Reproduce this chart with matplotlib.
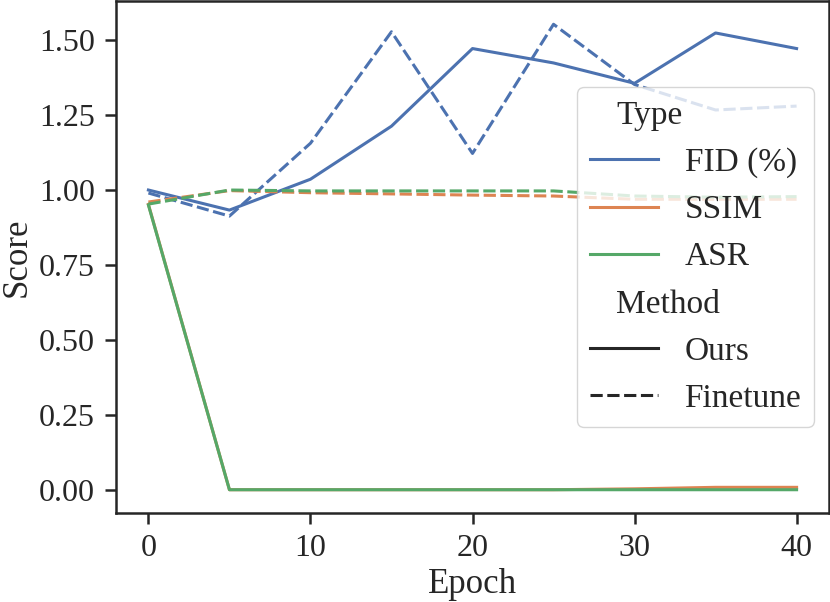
import matplotlib
matplotlib.use("Agg")
import matplotlib.pyplot as plt
from matplotlib.lines import Line2D
from matplotlib.patches import Patch

plt.rcParams["font.family"] = ["Liberation Serif", "DejaVu Serif"]

epochs = [0, 5, 10, 15, 20, 25, 30, 35, 40]

fid_ours = [1.00, 0.933, 1.036, 1.213, 1.472, 1.424, 1.356, 1.524, 1.472]
fid_finetune = [0.99, 0.913, 1.156, 1.528, 1.122, 1.553, 1.352, 1.267, 1.280]
ssim_ours = [0.952, 0.0, 0.0, 0.0, 0.0, 0.0, 0.003, 0.008, 0.008]
ssim_finetune = [0.960, 0.998, 0.991, 0.987, 0.983, 0.980, 0.969, 0.969, 0.969]
asr_ours = [0.950, 0.0, 0.0, 0.0, 0.0, 0.0, 0.0, 0.0, 0.0]
asr_finetune = [0.953, 1.000, 0.997, 0.997, 0.997, 0.997, 0.980, 0.976, 0.978]

types = ["FID (%)", "SSIM", "ASR"]
methods = ["Ours", "Finetune"]
colors = {"FID (%)": "#4C72B0", "SSIM": "#DD8452", "ASR": "#55A868"}
dashes = {"Ours": (None, None), "Finetune": (4, 1.5)}
series = {
    ("FID (%)", "Ours"): fid_ours,
    ("FID (%)", "Finetune"): fid_finetune,
    ("SSIM", "Ours"): ssim_ours,
    ("SSIM", "Finetune"): ssim_finetune,
    ("ASR", "Ours"): asr_ours,
    ("ASR", "Finetune"): asr_finetune,
}

ink = "#262626"
lw = 2.2

fig = plt.figure(figsize=(8.3, 6.02), dpi=100)
ax = fig.add_axes([116 / 830, 89 / 602, 713 / 830, 512 / 602])

for (t, m), vals in series.items():
    line, = ax.plot(epochs, vals, color=colors[t], lw=lw)
    if m == "Finetune":
        line.set_dashes(dashes[m])

ax.set_xlabel("Epoch", fontsize=25, color=ink)
ax.set_ylabel("Score", fontsize=25, color=ink)
ax.set_xticks([0, 10, 20, 30, 40])
ax.set_yticks([0.0, 0.25, 0.5, 0.75, 1.0, 1.25, 1.5])
ax.set_yticklabels(["%.2f" % v for v in ax.get_yticks()])
ax.tick_params(labelsize=23, length=8, width=1.8, color=ink, labelcolor=ink, pad=7)
for s in ax.spines.values():
    s.set_linewidth(1.8)
    s.set_color(ink)

handles, labels = [], []
handles.append(Patch(visible=False)); labels.append("Type")
for t in types:
    handles.append(Line2D([], [], color=colors[t], lw=lw)); labels.append(t)
handles.append(Patch(visible=False)); labels.append("Method")
for m in methods:
    h = Line2D([], [], color=ink, lw=lw)
    if m == "Finetune":
        h.set_dashes(dashes[m])
    handles.append(h); labels.append(m)

leg = ax.legend(handles, labels, loc="center right", fontsize=24,
                handlelength=2.05, handletextpad=0.8, labelspacing=0.5,
                borderaxespad=0.45, borderpad=0.38)
for t in leg.get_texts():
    t.set_color(ink)
# subtitle rows: collapse the invisible handle so the text moves left
for hpack in leg._legend_handle_box.get_children()[0].get_children():
    draw_area, text_area = hpack.get_children()
    if not all(a.get_visible() for a in draw_area.get_children()):
        draw_area.set_width(0)

fig.savefig("out.png", dpi=100)
